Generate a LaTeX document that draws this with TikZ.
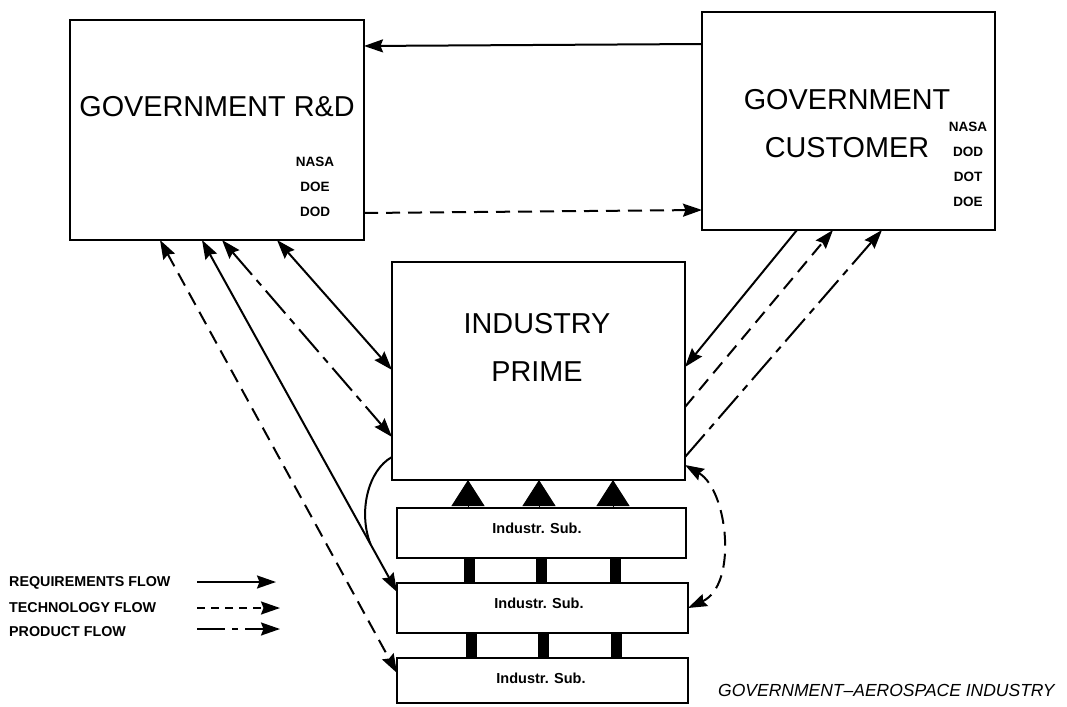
\documentclass[tikz,border=0pt]{standalone}
\usepackage{fontspec}
\setmainfont{Liberation Sans}
\usetikzlibrary{arrows.meta}
\begin{document}
\begin{tikzpicture}[x=1pt,y=-1pt,
  box/.style={draw, line width=2pt, inner sep=0pt, outer sep=0pt},
  big/.style={inner sep=0pt, align=center, font=\fontsize{28.8}{48}\selectfont},
  agency/.style={inner sep=0pt, align=center, font=\bfseries\fontsize{13.5}{25}\selectfont},
  subtext/.style={inner sep=0pt, font=\bfseries\fontsize{14.5}{16}\selectfont},
  legend/.style={inner sep=0pt, anchor=west, font=\bfseries\fontsize{14.3}{16}\selectfont},
  tip/.tip={Stealth[length=19pt,width=13pt,inset=2.5pt]},
  req/.style={line width=2pt},
  tech/.style={line width=2pt, dash pattern=on 14pt off 8pt},
  prod/.style={line width=2pt, dash pattern=on 30pt off 7pt on 7pt off 7pt},
  feed/.style={line width=1pt, -{Triangle[length=26pt,width=33pt]}},
  bar/.style={line width=11pt}
]
\useasboundingbox (0,0) rectangle (1067,706);

% boxes
\node[box, minimum width=294pt, minimum height=220pt] (rd) at (217,130) {};
\node[box, minimum width=293pt, minimum height=218pt] (gc) at (848.5,121) {};
\node[box, minimum width=293pt, minimum height=218pt] (ip) at (538.5,371) {};
\node[box, minimum width=289pt, minimum height=50pt] (s1) at (541.5,533) {};
\node[box, minimum width=291pt, minimum height=50pt] (s2) at (542.5,608) {};
\node[box, minimum width=291pt, minimum height=45pt] (s3) at (542.5,680.5) {};

% texts in boxes
\node[big] (rdt) at (217,107) {GOVERNMENT R\&D};
\node[agency] (rda) at (315,187) {NASA\\DOE\\DOD};
\node[big] (gct) at (847,123.5) {GOVERNMENT\\CUSTOMER};
\node[agency] (gca) at (968,164.5) {NASA\\DOD\\DOT\\DOE};
\node[big] (ipt) at (537,347.5) {INDUSTRY\\PRIME};
\node[subtext] (s1t) at (537,528) {Industr. Sub.};
\node[subtext] (s2t) at (539,603) {Industr. Sub.};
\node[subtext] (s3t) at (541,678) {Industr. Sub.};

% top connectors
\draw[req,-tip] (gc.west |- 0,44) -- (rd.east |- 0,46);
\draw[tech,-tip] (rd.east |- 0,213) -- (gc.west |- 0,210);

% left connectors
\draw[tech,tip-tip] (160,0 |- rd.south) -- (s3.west |- 0,673);
\draw[req,tip-tip] (202,0 |- rd.south) -- coordinate[pos=0.864] (m) (s2.west |- 0,592);
\draw[prod,tip-tip] (222,0 |- rd.south) -- (ip.west |- 0,437);
\draw[req,tip-tip] (277,0 |- rd.south) -- (ip.west |- 0,370);
\draw[req] (ip.west |- 0,457) .. controls (368,470) and (358,512) .. (m);

% right connectors
\draw[req,-tip] (797,0 |- gc.south) -- (ip.east |- 0,367);
\draw[tech,-tip] (ip.east |- 0,407) -- (833,0 |- gc.south);
\draw[prod,-tip] (ip.east |- 0,457) -- (882,0 |- gc.south);
\draw[tech,tip-tip] (ip.east |- 0,465) .. controls (728,490) and (738,585) .. (s2.east |- 0,608);

% sub to prime
\draw[feed] (468,0 |- s1.north) -- (468,0 |- ip.south);
\draw[feed] (539,0 |- s1.north) -- (539,0 |- ip.south);
\draw[feed] (613,0 |- s1.north) -- (613,0 |- ip.south);
\draw[bar] (469,0 |- s1.south) -- (469,0 |- s2.north);
\draw[bar] (541,0 |- s1.south) -- (541,0 |- s2.north);
\draw[bar] (615,0 |- s1.south) -- (615,0 |- s2.north);
\draw[bar] (471,0 |- s2.south) -- (471,0 |- s3.north);
\draw[bar] (543,0 |- s2.south) -- (543,0 |- s3.north);
\draw[bar] (616,0 |- s2.south) -- (616,0 |- s3.north);

% legend
\node[legend] (lreq) at (9,583) {REQUIREMENTS FLOW};
\node[legend] (ltech) at (9,608) {TECHNOLOGY FLOW};
\node[legend] (lprod) at (9,632) {PRODUCT FLOW};
\coordinate (lr1) at (197,582); \coordinate (lr2) at (276,582);
\coordinate (lt1) at (197,608); \coordinate (lt2) at (280,608);
\coordinate (lp1) at (197,629); \coordinate (lp2) at (280,629);
\draw[req,-tip] (lr1) -- (lr2);
\draw[req,-tip,dash pattern=on 8pt off 6pt] (lt1) -- (lt2);
\draw[req,-tip,dash pattern=on 28pt off 7pt on 6pt off 7pt] (lp1) -- (lp2);

% caption
\node[inner sep=0pt, anchor=west, font=\itshape\fontsize{17.5}{20}\selectfont] (cap) at (718,690) {GOVERNMENT--AEROSPACE INDUSTRY};
\end{tikzpicture}
\end{document}
